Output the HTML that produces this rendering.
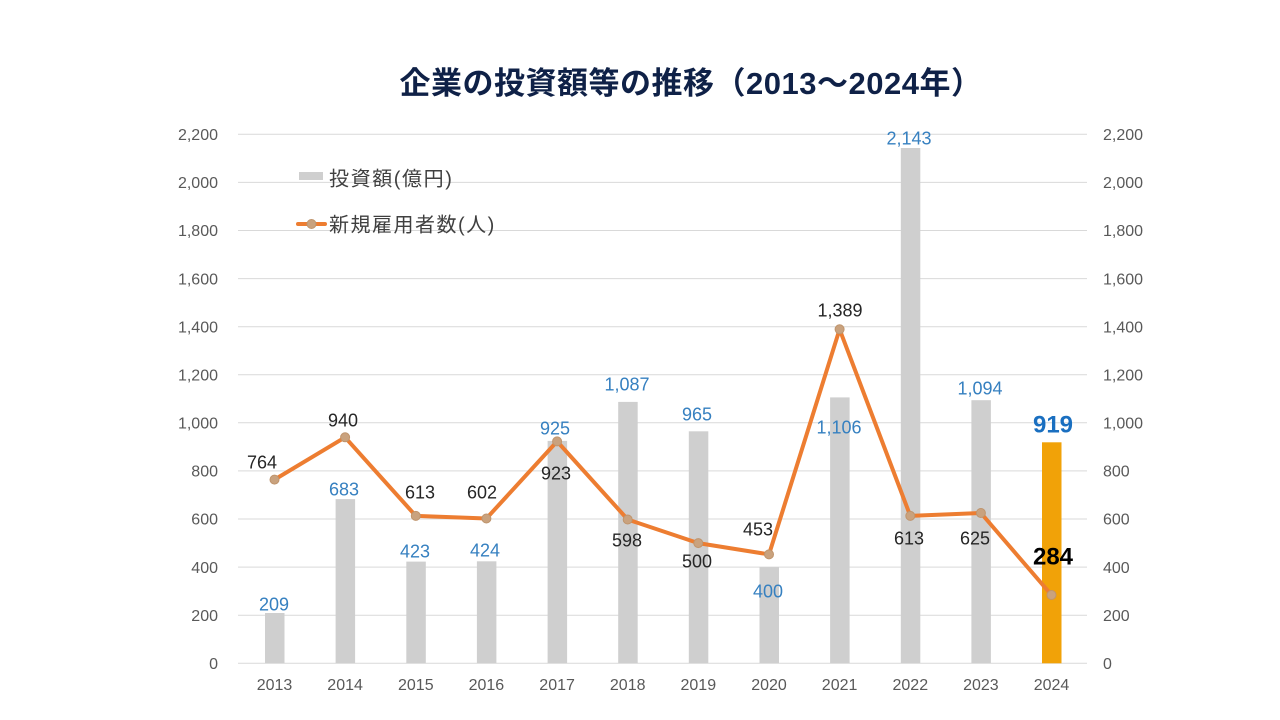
<!DOCTYPE html>
<html>
<head>
<meta charset="utf-8">
<style>
html,body{margin:0;padding:0;background:#ffffff;}
svg{display:block;}
</style>
</head>
<body>
<svg width="1280" height="720" viewBox="0 0 1280 720" xmlns="http://www.w3.org/2000/svg">
  <rect width="1280" height="720" fill="#ffffff"/>
  <!-- Title -->
  <text x="691" y="94" text-anchor="middle" font-family="'Liberation Sans','Noto Sans CJK JP',sans-serif" font-size="31" font-weight="bold" letter-spacing="0.5" fill="#0f2147">企業の投資額等の推移（2013～2024年）</text>

  <!-- Gridlines -->
  <g stroke="#d9d9d9" stroke-width="1">
    <line x1="238" x2="1087" y1="134.3" y2="134.3"/>
    <line x1="238" x2="1087" y1="182.4" y2="182.4"/>
    <line x1="238" x2="1087" y1="230.5" y2="230.5"/>
    <line x1="238" x2="1087" y1="278.6" y2="278.6"/>
    <line x1="238" x2="1087" y1="326.7" y2="326.7"/>
    <line x1="238" x2="1087" y1="374.8" y2="374.8"/>
    <line x1="238" x2="1087" y1="422.8" y2="422.8"/>
    <line x1="238" x2="1087" y1="470.9" y2="470.9"/>
    <line x1="238" x2="1087" y1="519.0" y2="519.0"/>
    <line x1="238" x2="1087" y1="567.1" y2="567.1"/>
    <line x1="238" x2="1087" y1="615.2" y2="615.2"/>
    <line x1="238" x2="1087" y1="663.3" y2="663.3"/>
  </g>

  <!-- Left axis labels -->
  <g font-family="'Liberation Sans',sans-serif" font-size="16" fill="#595959" text-anchor="end">
    <text x="218" y="140">2,200</text>
    <text x="218" y="188.1">2,000</text>
    <text x="218" y="236.2">1,800</text>
    <text x="218" y="284.3">1,600</text>
    <text x="218" y="332.4">1,400</text>
    <text x="218" y="380.5">1,200</text>
    <text x="218" y="428.5">1,000</text>
    <text x="218" y="476.6">800</text>
    <text x="218" y="524.7">600</text>
    <text x="218" y="572.8">400</text>
    <text x="218" y="620.9">200</text>
    <text x="218" y="669">0</text>
  </g>
  <!-- Right axis labels -->
  <g font-family="'Liberation Sans',sans-serif" font-size="16" fill="#595959" text-anchor="start">
    <text x="1103" y="140">2,200</text>
    <text x="1103" y="188.1">2,000</text>
    <text x="1103" y="236.2">1,800</text>
    <text x="1103" y="284.3">1,600</text>
    <text x="1103" y="332.4">1,400</text>
    <text x="1103" y="380.5">1,200</text>
    <text x="1103" y="428.5">1,000</text>
    <text x="1103" y="476.6">800</text>
    <text x="1103" y="524.7">600</text>
    <text x="1103" y="572.8">400</text>
    <text x="1103" y="620.9">200</text>
    <text x="1103" y="669">0</text>
  </g>

  <!-- Category labels -->
  <g font-family="'Liberation Sans',sans-serif" font-size="16" fill="#595959" text-anchor="middle">
    <text x="274.5" y="690">2013</text>
    <text x="345.1" y="690">2014</text>
    <text x="415.8" y="690">2015</text>
    <text x="486.4" y="690">2016</text>
    <text x="557.1" y="690">2017</text>
    <text x="627.7" y="690">2018</text>
    <text x="698.3" y="690">2019</text>
    <text x="769.0" y="690">2020</text>
    <text x="839.6" y="690">2021</text>
    <text x="910.3" y="690">2022</text>
    <text x="980.9" y="690">2023</text>
    <text x="1051.5" y="690">2024</text>
  </g>

  <!-- Bars -->
  <g fill="#cfcfcf">
    <rect x="265" y="613.0" width="19.5" height="50.3"/>
    <rect x="335.6" y="499.1" width="19.5" height="164.2"/>
    <rect x="406.3" y="561.6" width="19.5" height="101.7"/>
    <rect x="476.9" y="561.3" width="19.5" height="102.0"/>
    <rect x="547.6" y="440.9" width="19.5" height="222.4"/>
    <rect x="618.2" y="401.9" width="19.5" height="261.4"/>
    <rect x="688.8" y="431.3" width="19.5" height="232.0"/>
    <rect x="759.5" y="567.1" width="19.5" height="96.2"/>
    <rect x="830.1" y="397.4" width="19.5" height="265.9"/>
    <rect x="900.8" y="148.0" width="19.5" height="515.3"/>
    <rect x="971.4" y="400.2" width="19.5" height="263.1"/>
  </g>
  <rect x="1042" y="442.3" width="19.5" height="221.0" fill="#f1a208"/>

  <!-- Bar labels -->
  <g font-family="'Liberation Sans',sans-serif" font-size="18" fill="#3680c0" text-anchor="middle">
    <text x="274" y="610.4">209</text>
    <text x="344" y="495.4">683</text>
    <text x="415" y="557.4">423</text>
    <text x="485" y="556.4">424</text>
    <text x="555" y="434.4">925</text>
    <text x="627" y="390.4">1,087</text>
    <text x="697" y="420.4">965</text>
    <text x="768" y="597.4">400</text>
    <text x="839" y="433.4">1,106</text>
    <text x="909" y="144.4">2,143</text>
    <text x="980" y="394.4">1,094</text>
  </g>
  <text x="1053" y="432.6" font-family="'Liberation Sans',sans-serif" font-size="24" font-weight="bold" fill="#1a6fc0" text-anchor="middle">919</text>

  <!-- Line -->
  <polyline fill="none" stroke="#ed7d31" stroke-width="4" stroke-linejoin="round" stroke-linecap="round"
    points="274.5,479.6 345.1,437.3 415.8,515.9 486.4,518.5 557.1,441.4 627.7,519.5 698.3,543.1 769.0,554.4 839.6,329.3 910.3,515.9 980.9,513.0 1051.5,595.0"/>
  <g fill="#c9a27e" stroke="#bf946c" stroke-width="1">
    <circle cx="274.5" cy="479.6" r="4.5"/>
    <circle cx="345.1" cy="437.3" r="4.5"/>
    <circle cx="415.8" cy="515.9" r="4.5"/>
    <circle cx="486.4" cy="518.5" r="4.5"/>
    <circle cx="557.1" cy="441.4" r="4.5"/>
    <circle cx="627.7" cy="519.5" r="4.5"/>
    <circle cx="698.3" cy="543.1" r="4.5"/>
    <circle cx="769.0" cy="554.4" r="4.5"/>
    <circle cx="839.6" cy="329.3" r="4.5"/>
    <circle cx="910.3" cy="515.9" r="4.5"/>
    <circle cx="980.9" cy="513.0" r="4.5"/>
    <circle cx="1051.5" cy="595.0" r="4.5"/>
  </g>

  <!-- Line labels -->
  <g font-family="'Liberation Sans',sans-serif" font-size="18" fill="#262626" text-anchor="middle">
    <text x="262" y="468.4">764</text>
    <text x="343" y="426.4">940</text>
    <text x="420" y="498.4">613</text>
    <text x="482" y="498.4">602</text>
    <text x="556" y="479.4">923</text>
    <text x="627" y="546.4">598</text>
    <text x="697" y="567.4">500</text>
    <text x="758" y="535.4">453</text>
    <text x="840" y="316.4">1,389</text>
    <text x="909" y="544.4">613</text>
    <text x="975" y="544.4">625</text>
  </g>
  <text x="1053" y="564.6" font-family="'Liberation Sans',sans-serif" font-size="24" font-weight="bold" fill="#000000" text-anchor="middle">284</text>

  <!-- Legend -->
  <rect x="299" y="172" width="24" height="8" fill="#cfcfcf"/>
  <text x="329" y="185.6" font-family="'Liberation Sans','Noto Sans CJK JP',sans-serif" font-size="20" letter-spacing="1.6" fill="#404040">投資額(億円)</text>
  <line x1="298" y1="224" x2="325" y2="224" stroke="#ed7d31" stroke-width="4" stroke-linecap="round"/>
  <circle cx="311.5" cy="224" r="4.5" fill="#c9a27e" stroke="#bf946c" stroke-width="1"/>
  <text x="329" y="231.6" font-family="'Liberation Sans','Noto Sans CJK JP',sans-serif" font-size="20" letter-spacing="1.5" fill="#404040">新規雇用者数(人)</text>
</svg>
</body>
</html>
